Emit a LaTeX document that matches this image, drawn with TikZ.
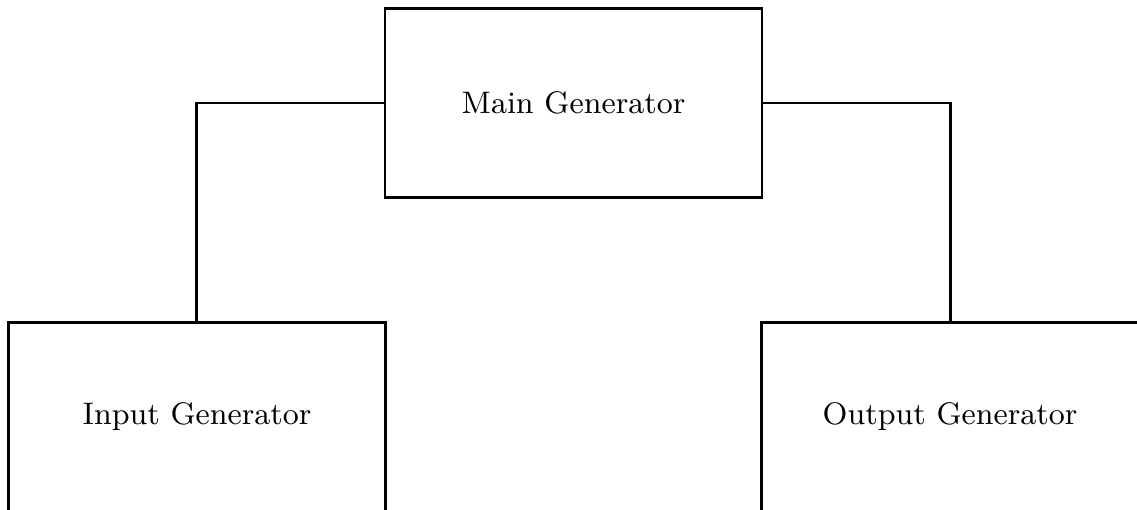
\documentclass[tikz,border=0pt]{standalone}
\begin{document}
\begin{tikzpicture}[
  genbox/.style={draw, line width=0.9pt, minimum width=4cm, minimum height=2cm,
                 inner sep=0pt, font=\fontsize{9.4}{11}\selectfont},
  link/.style={line width=0.9pt}
]
  % visible window; the lower boxes run past its edges
  \useasboundingbox (0,0) rectangle (12.064,-5.411);
  \clip (0,0) rectangle (12.064,-5.411);

  \node[genbox] (main)   at (6.085,-1.093)  {Main Generator};
  \node[genbox] (input)  at (2.090,-4.424)  {Input Generator};
  \node[genbox] (output) at (10.080,-4.424) {Output Generator};

  \draw[link] (main.west) -| (input.north);
  \draw[link] (main.east) -| (output.north);
\end{tikzpicture}
\end{document}
